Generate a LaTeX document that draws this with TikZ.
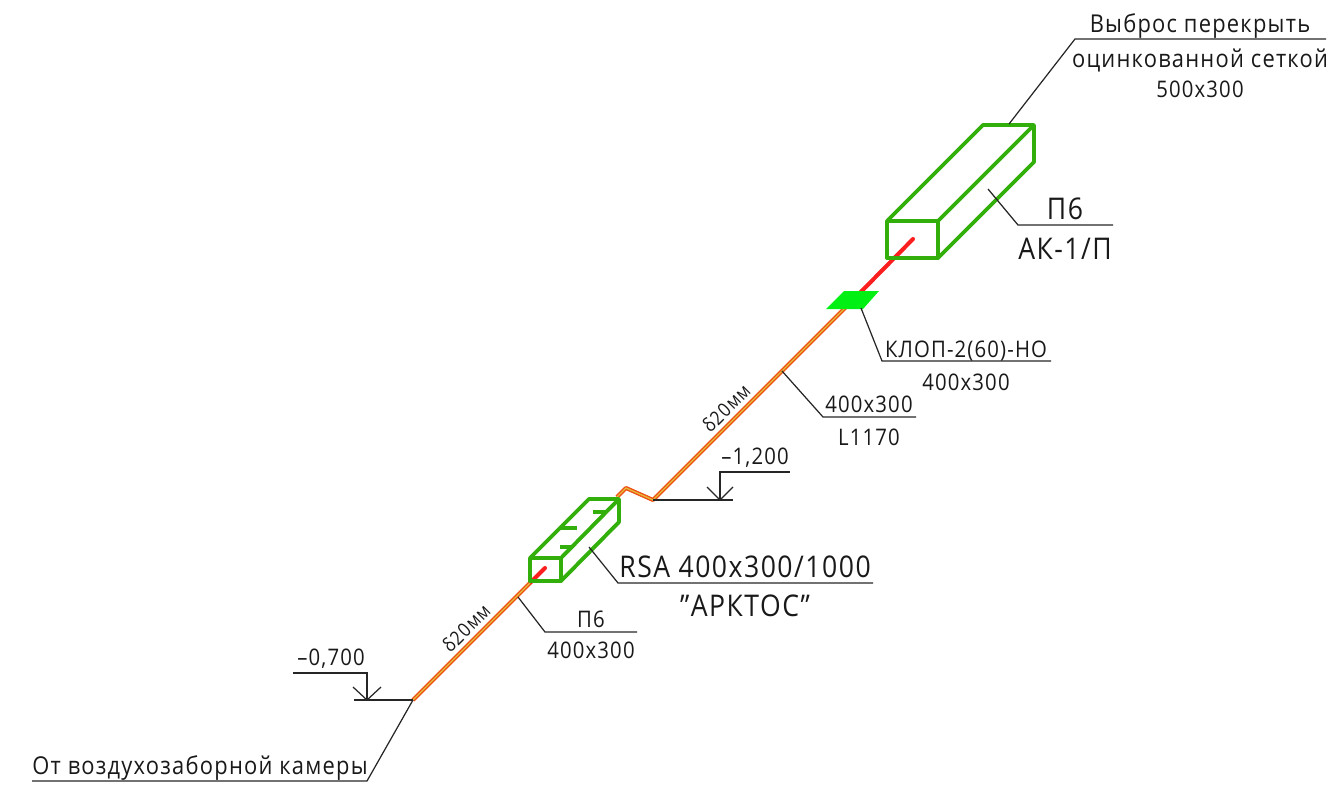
\documentclass[tikz,border=0pt]{standalone}
\usepackage{fontspec}
\setmainfont[LetterSpace=5,FakeStretch=0.89]{Open Sans}
\usetikzlibrary{positioning}
\usetikzlibrary{calc}
\definecolor{ductgreen}{RGB}{50,175,10}
\definecolor{damper}{RGB}{0,240,20}
\definecolor{ductred}{RGB}{250,30,30}
\definecolor{ductorange}{RGB}{240,80,20}
\definecolor{ductyellow}{RGB}{225,190,60}
\tikzset{
  leader/.style={draw=black!85,line width=0.7pt},
  box/.style={draw=ductgreen,line width=2.2pt,line join=round},
  redline/.style={draw=ductred,line width=2.3pt,line cap=round},
  lined/.style={draw=ductorange,line width=2.3pt,line join=round},
  linec/.style={draw=ductyellow,line width=0.7pt,line join=round},
  txt/.style={inner sep=0pt,text=black!90},
  tiny/.style={txt,font=\fontsize{11}{11}\selectfont},
  small/.style={txt,font=\fontsize{13}{13}\selectfont},
  mid/.style={txt,font=\fontsize{14}{14}\selectfont},
  big/.style={txt,font=\fontsize{17}{17}\selectfont},
}
\begin{document}
\begin{tikzpicture}[x=0.02cm,y=-0.02cm]
\useasboundingbox (0,0) rectangle (1336,788);

\coordinate (startA) at (413,700);
\coordinate (endA) at (530,583);
\coordinate (tipA) at (545,568);
\coordinate (startB) at (617,497);
\coordinate (bendB) at (626,488);
\coordinate (bendC) at (653,500);
\coordinate (endB) at (850,303);
\coordinate (tipB) at (913,239);

\coordinate (fa) at (887,221);
\coordinate (fb) at (938,221);
\coordinate (fc) at (938,258);
\coordinate (fd) at (887,258);
\coordinate (ba) at (983,125);
\coordinate (bb) at (1034,125);
\coordinate (bc) at (1034,162);

\coordinate (sa) at (530,558);
\coordinate (sb) at (561,558);
\coordinate (sc) at (561,581);
\coordinate (sd) at (530,581);
\coordinate (ta) at (589,499);
\coordinate (tb) at (619,499);
\coordinate (tc) at (619,522);

\coordinate (ticka1) at (593,512);
\coordinate (ticka2) at (607,512);
\coordinate (tickb1) at (561,528);
\coordinate (tickb2) at (577,528);
\coordinate (tickc1) at (560,547);
\coordinate (tickc2) at (572,547);

\coordinate (dampA) at (826,309);
\coordinate (dampB) at (844,291);
\coordinate (dampC) at (879,291);
\coordinate (dampD) at (863,309);

\coordinate (topA) at (1009,124);
\coordinate (topB) at (1075,39);
\coordinate (topC) at (1326,39);
\coordinate (akA) at (988,189);
\coordinate (akB) at (1018,225);
\coordinate (akC) at (1113,225);
\coordinate (klopA) at (861,308);
\coordinate (klopB) at (882,361);
\coordinate (klopC) at (1051,361);
\coordinate (lenA) at (782,371);
\coordinate (lenB) at (823,417);
\coordinate (lenC) at (916,417);
\coordinate (rsaA) at (589,547);
\coordinate (rsaB) at (618,583);
\coordinate (rsaC) at (873,583);
\coordinate (psA) at (518,597);
\coordinate (psB) at (545,632);
\coordinate (psC) at (637,632);
\coordinate (inB) at (367,781);
\coordinate (inC) at (32,781);

\coordinate (lvlA) at (733,500);
\coordinate (lvlB) at (720,500);
\coordinate (lvlC) at (720,472);
\coordinate (lvlD) at (790,472);
\coordinate (lvlE) at (707,487);
\coordinate (lvlF) at (733,487);
\coordinate (lowA) at (354,700);
\coordinate (lowB) at (367,700);
\coordinate (lowC) at (367,673);
\coordinate (lowD) at (293,673);
\coordinate (lowE) at (353,687);
\coordinate (lowF) at (381,687);

\draw[redline] (endA)--(tipA);
\draw[redline] (endB)--(tipB);
\draw[lined] (startA)--(endA);
\draw[lined] (startB)--(bendB)--(bendC)--(endB);
\draw[linec] (startA)--(endA);
\draw[linec] (startB)--(bendB)--(bendC)--(endB);

\fill[damper] (dampA)--(dampB)--(dampC)--(dampD)--cycle;

\draw[box] (fa)--(fb)--(fc)--(fd)--cycle;
\draw[box] (fa)--(ba)--(bb)--(bc)--(fc);
\draw[box] (fb)--(bb);
\draw[box] (sa)--(sb)--(sc)--(sd)--cycle;
\draw[box] (sa)--(ta)--(tb)--(tc)--(sc);
\draw[box] (sb)--(tb);
\draw[box] (ticka1)--(ticka2);
\draw[box] (tickb1)--(tickb2);
\draw[box] (tickc1)--(tickc2);

\draw[leader] (topA)--(topB)--(topC);
\draw[leader] (akA)--(akB)--(akC);
\draw[leader] (klopA)--(klopB)--(klopC);
\draw[leader] (lenA)--(lenB)--(lenC);
\draw[leader] (rsaA)--(rsaB)--(rsaC);
\draw[leader] (psA)--(psB)--(psC);
\draw[leader] (startA)--(inB)--(inC);
\draw[leader] (bendC)--(lvlA);
\draw[leader] (lvlB)--(lvlC)--(lvlD);
\draw[leader] (lvlE)--(lvlB)--(lvlF);
\draw[leader] (lowA)--(startA);
\draw[leader] (lowB)--(lowC)--(lowD);
\draw[leader] (lowE)--(lowB)--(lowF);

\node[mid](vybros) at (1200,26){Выброс перекрыть};
\node[mid](setka) at (1200,60){оцинкованной сеткой};
\node[small](razmer) at (1200,89){500х300};
\node[big](psix) at (1065,209){П6};
\node[big](ak) at (1065,249){АК-1/П};
\node[small](klop) at (966,351){КЛОП-2(60)-НО};
\node[small](klopsize) at (966,382){400х300};
\node[small](lensize) at (869,404){400х300};
\node[small](len) at (869,437){L1170};
\node[tiny,rotate=45](deltaB) at (726,408){δ20мм};
\node[small](lvlhigh) at (755,458){–1,200};
\node[big](rsa) at (745,567){RSA 400х300/1000};
\node[big](arktos) at (745,606){"АРКТОС"};
\node[small](psmall) at (591,619){П6};
\node[small](psize) at (591,650){400х300};
\node[tiny,rotate=45](deltaA) at (466,628){δ20мм};
\node[small](lvllow) at (331,659){–0,700};
\node[mid](camera) at (200,768){От воздухозаборной камеры};
\end{tikzpicture}
\end{document}
